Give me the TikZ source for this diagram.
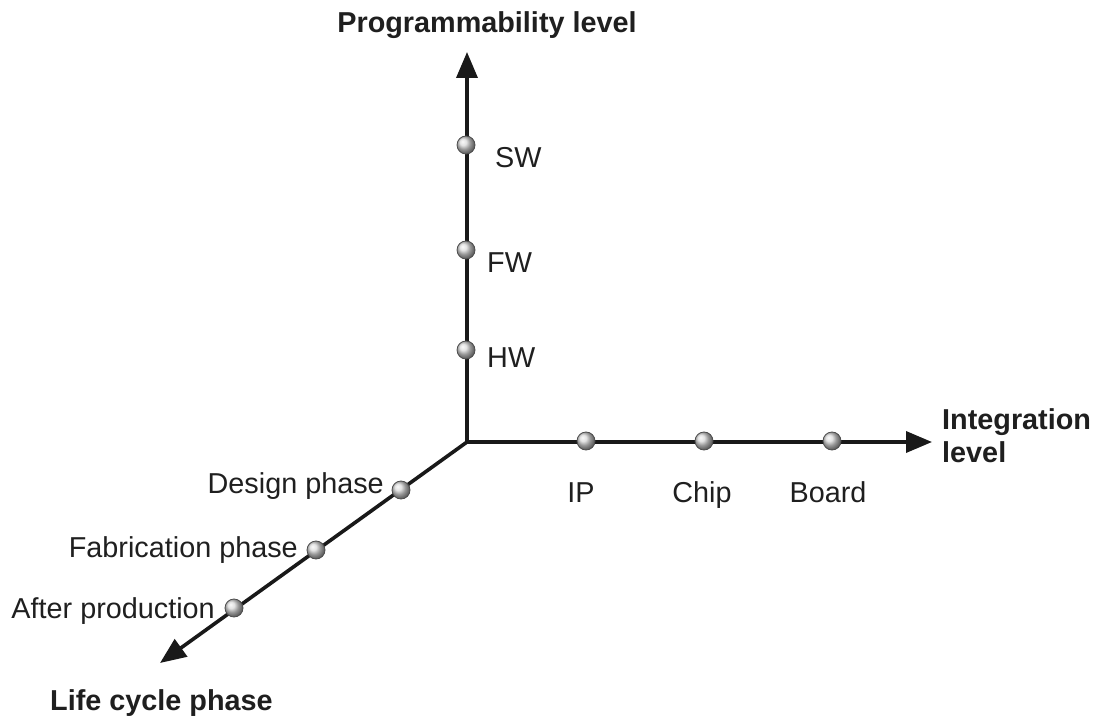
\documentclass[tikz,border=0pt]{standalone}
\usepackage{fontspec}
\setmainfont{Liberation Sans}
\usetikzlibrary{arrows.meta,shadings}
\begin{document}
\begin{tikzpicture}[x=1pt,y=-1pt,
  axis/.style={line width=3.6pt,draw=black!90,-{Triangle[length=26pt,width=21pt]}},
  dot/.style={circle,minimum size=18pt,inner sep=0pt,draw=black!70,line width=0.8pt,shading=ball,ball color=gray!30},
  lbl/.style={font=\fontsize{28.8}{33}\selectfont,text=black!88,inner sep=0pt},
  title/.style={font=\fontsize{28.8}{33}\selectfont\bfseries,text=black!88,inner sep=0pt,align=left}]
\useasboundingbox (0,0) rectangle (1094,719);
\coordinate (O) at (467,442);
\coordinate (T) at (467,52);
\coordinate (R) at (932,442);
\coordinate (L) at (160,663);
\draw[axis] (O) -- (T);
\draw[axis] (O) -- (R);
\draw[axis] (O) -- (L);
% vertical
\node[dot] (sw) at (466,145) {};
\node[dot] (fw) at (466,250) {};
\node[dot] (hw) at (466,350) {};
\node[lbl,anchor=west] (swl) at (495,158) {SW};
\node[lbl,anchor=west] (fwl) at (487,263) {FW};
\node[lbl,anchor=west] (hwl) at (487,358) {HW};
% horizontal
\node[dot] (ip) at (586,441) {};
\node[dot] (chip) at (704,441) {};
\node[dot] (board) at (832,441) {};
\node[lbl,anchor=base] (ipl) at (581,502) {IP};
\node[lbl,anchor=base] (chipl) at (702,502) {Chip};
\node[lbl,anchor=base] (boardl) at (828,502) {Board};
% diagonal
\node[dot] (des) at (401,490) {};
\node[dot] (fab) at (316,550) {};
\node[dot] (aft) at (234,608) {};
\node[lbl,anchor=east] (desl) at (384,486) {Design phase};
\node[lbl,anchor=east] (fabl) at (298,550) {Fabrication phase};
\node[lbl,anchor=east] (aftl) at (215,611) {After production};
% titles
\node[title] (prog) at (487,25) {Programmability level};
\node[title,anchor=west] (integ) at (942,436) {Integration\\level};
\node[title,anchor=west] (life) at (50,703) {Life cycle phase};
\end{tikzpicture}
\end{document}
